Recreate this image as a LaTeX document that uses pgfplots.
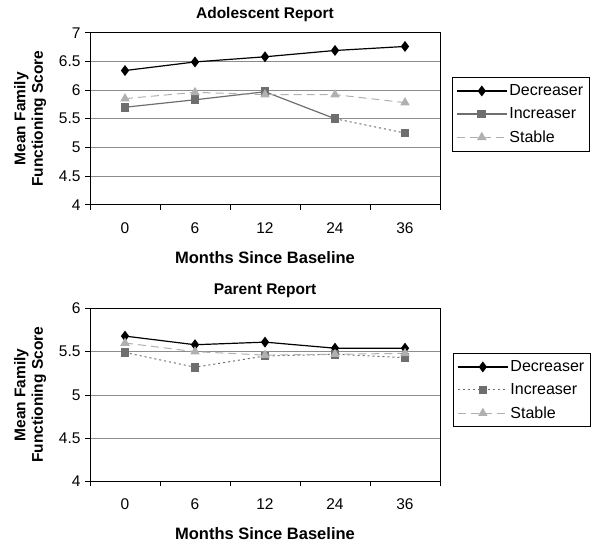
\documentclass[border=0pt]{standalone}
\usepackage{pgfplots}
\pgfplotsset{compat=1.18}
\usepackage{fontspec}
\setmainfont{Liberation Sans}
\usepackage{pgfplotstable}
\definecolor{incc}{HTML}{6E6E6E}
\definecolor{stac}{HTML}{B0B0B0}
\pgfplotstableread{
x dec inc sta
0.5 6.34 5.70 5.85
1.5 6.49 5.83 5.96
2.5 6.58 5.97 5.92
3.5 6.69 5.50 5.92
4.5 6.76 5.25 5.78
}\adol
\pgfplotstableread{
x dec inc sta
0.5 5.68 5.49 5.60
1.5 5.58 5.32 5.50
2.5 5.61 5.45 5.46
3.5 5.54 5.47 5.47
4.5 5.54 5.43 5.48
}\parent
\pgfplotsset{
  common/.style={
    scale only axis, width=350pt,
    xmin=0, xmax=5,
    xtick={0.5,1.5,2.5,3.5,4.5},
    xticklabels={0,6,12,24,36},
    minor xtick={0,1,2,3,4,5},
    major x tick style={draw=none},
    minor tick length=5pt,
    tick align=outside, tick pos=left,
    major tick length=5pt,
    ytick distance=0.5,
    ymajorgrids, grid style={gray!90, line width=0.8pt},
    axis line style={line width=0.8pt},
    tick style={black, line width=0.8pt},
    /pgf/number format/assume math mode=true,
    ticklabel style={font=\fontsize{15.5}{17}\selectfont},
    xticklabel style={yshift=-9pt},
    yticklabel style={xshift=-1pt, /pgf/number format/.cd, fixed, precision=1},
    title style={font=\bfseries\fontsize{15.5}{18}\selectfont, yshift=1pt},
    xlabel={Months Since Baseline},
    xlabel style={font=\bfseries\fontsize{16.5}{19}\selectfont, yshift=-11pt},
    ylabel={Mean Family\\Functioning Score},
    ylabel style={font=\bfseries\fontsize{15.5}{17.5}\selectfont, align=center, yshift=6pt},
    legend cell align=left,
    legend style={draw=black, line width=0.6pt, font=\fontsize{16}{18}\selectfont,
      row sep=6.5pt, inner xsep=4pt, inner ysep=5pt},
    legend image code/.code={
      \draw[mark repeat=2,mark phase=2] plot coordinates {(0pt,0pt)(25pt,0pt)(50pt,0pt)};},
  },
  dec/.style={black, line width=1.2pt, mark=diamond*, mark size=4.5pt, mark options={solid, fill=black}},
  inc/.style={incc, line width=1.2pt, mark=square*, mark size=3.8pt, mark options={solid, fill=incc}},
  sta/.style={stac, line width=1pt, dash pattern=on 8pt off 5pt, mark=triangle*, mark size=4.5pt, mark options={solid, fill=stac}},
}
\begin{document}
\begin{tikzpicture}
\useasboundingbox (0,0) rectangle (600pt,-546pt);
\begin{axis}[common, at={(90pt,-32.7pt)}, anchor=north west, height=172pt,
  ymin=4, ymax=7, title={Adolescent Report},
  legend style={at={(1.034,0.74)}, anchor=north west}]
\addplot[dec] table[x=x,y=dec] {\adol};
\addlegendentry{Decreaser}
\addplot[inc] table[x=x,y=inc, restrict x to domain=0:3.6] {\adol};
\addlegendentry{Increaser}
\addplot[sta] table[x=x,y=sta] {\adol};
\addlegendentry{Stable}
\addplot[inc, line width=1pt, dash pattern=on 2pt off 3pt, forget plot] table[x=x,y=inc, restrict x to domain=3.4:5] {\adol};
\end{axis}
\begin{axis}[common, at={(90pt,-308.4pt)}, anchor=north west, height=173pt,
  ymin=4, ymax=6, title={Parent Report},
  legend style={at={(1.037,0.74)}, anchor=north west}]
\addplot[dec] table[x=x,y=dec] {\parent};
\addlegendentry{Decreaser}
\addplot[inc, line width=1pt, dash pattern=on 2pt off 3pt] table[x=x,y=inc] {\parent};
\addlegendentry{Increaser}
\addplot[sta] table[x=x,y=sta] {\parent};
\addlegendentry{Stable}
\end{axis}
\end{tikzpicture}
\end{document}
